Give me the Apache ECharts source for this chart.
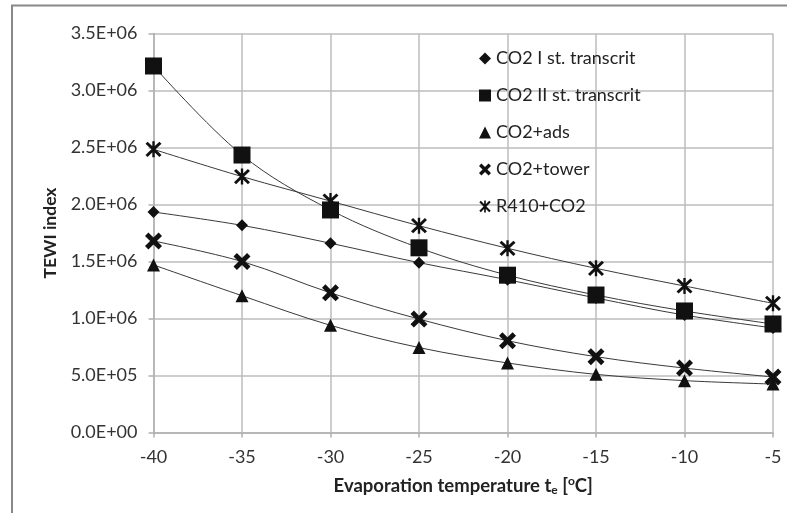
<!DOCTYPE html>
<html><head><meta charset="utf-8">
<script src="https://cdn.jsdelivr.net/npm/echarts@6/dist/echarts.min.js"></script>
<style>html,body{margin:0;padding:0;background:#fff}#c{width:787px;height:513px}</style>
</head><body><div id="c"></div>
<script>
var temps = [-40, -35, -30, -25, -20, -15, -10, -5];
var co2I   = [1.934e6, 1.817e6, 1.66e6, 1.49e6, 1.34e6, 1.18e6, 1.03e6, 0.917e6];
var co2II  = [3.215e6, 2.434e6, 1.952e6, 1.62e6, 1.38e6, 1.206e6, 1.066e6, 0.952e6];
var co2Ads = [1.47e6, 1.2e6, 0.94e6, 0.745e6, 0.61e6, 0.51e6, 0.455e6, 0.425e6];
var co2Tower = [1.68e6, 1.5e6, 1.225e6, 0.995e6, 0.805e6, 0.665e6, 0.565e6, 0.487e6];
var r410 = [2.484e6, 2.245e6, 2.03e6, 1.814e6, 1.616e6, 1.44e6, 1.285e6, 1.133e6];
var names = ['CO2 I st. transcrit', 'CO2 II st. transcrit', 'CO2+ads', 'CO2+tower', 'R410+CO2'];

var X_PATH = 'path://M4,0 L10,6 L16,0 L20,4 L14,10 L20,16 L16,20 L10,14 L4,20 L0,16 L6,10 L0,4 Z';
var STAR_PATH = 'path://M3,0.5 L10,7.5 L17,0.5 L19.5,3 L12.5,10 L19.5,17 L17,19.5 L10,12.5 L3,19.5 L0.5,17 L7.5,10 L0.5,3 Z M8.6,0 L11.4,0 L11.4,20 L8.6,20 Z';
var symbols = ['diamond', 'rect', 'triangle', X_PATH, STAR_PATH];
var sizes = [12, 17, 13, 17, 16];
var seriesData = [co2I, co2II, co2Ads, co2Tower, r410];

function pairs(arr){ return temps.map(function(t,i){ return [t, arr[i]]; }); }
function fmt(v){
  if (v === 0) return '0.0E+00';
  var e = Math.floor(Math.log10(v) + 1e-9);
  var m = v / Math.pow(10, e);
  return m.toFixed(1) + 'E+' + (e < 10 ? '0' + e : e);
}

var FONT = 'Lato';
var chart = echarts.init(document.getElementById('c'));
chart.setOption({
  animation: false,
  backgroundColor: '#fff',
  color: ['#111', '#111', '#111', '#111', '#111'],
  grid: { left: 153.5, right: 14, top: 33.5, bottom: 80.5, containLabel: false },
  xAxis: {
    type: 'value', min: -40, max: -5, interval: 5,
    axisLine: { show: true, lineStyle: { color: '#b0b0b0', width: 1.5 } },
    axisTick: { show: true, length: 5, lineStyle: { color: '#b0b0b0', width: 1.5 } },
    splitLine: { show: true, lineStyle: { color: '#bdbdbd', width: 1.5 } },
    axisLabel: { color: '#333', fontFamily: FONT, fontSize: 18, margin: 16 },
    name: 'Evaporation temperature t{sub|e} [{sup|o}C]',
    nameLocation: 'middle', nameGap: 43,
    nameTextStyle: {
      color: '#222', fontFamily: FONT, fontSize: 18.5, fontWeight: 'bold',
      rich: {
        sub: { fontSize: 12, fontWeight: 'bold', fontFamily: FONT, color: '#222', verticalAlign: 'bottom', padding: [9, 0, 0, 0] },
        sup: { fontSize: 12, fontWeight: 'bold', fontFamily: FONT, color: '#222', verticalAlign: 'top', padding: [0, 0, 7, 0] }
      }
    }
  },
  yAxis: {
    type: 'value', min: 0, max: 3.5e6, interval: 0.5e6,
    axisLine: { show: true, lineStyle: { color: '#b0b0b0', width: 1.5 } },
    axisTick: { show: true, length: 5, lineStyle: { color: '#b0b0b0', width: 1.5 } },
    splitLine: { show: true, lineStyle: { color: '#bdbdbd', width: 1.5 } },
    axisLabel: { color: '#333', fontFamily: FONT, fontSize: 18, margin: 16, formatter: fmt },
    name: 'TEWI index', nameLocation: 'middle', nameGap: 93,
    nameTextStyle: { color: '#222', fontFamily: FONT, fontSize: 17.5, fontWeight: 'bold' }
  },
  legend: {
    orient: 'vertical', left: 479, top: 48, padding: 0, itemGap: 16,
    itemWidth: 12, itemHeight: 12,
    textStyle: { color: '#222', fontFamily: FONT, fontSize: 18, lineHeight: 21 },
    data: names.map(function(n, i){
      return { name: n, icon: symbols[i], itemStyle: { color: '#111', borderWidth: 0 } };
    })
  },
  graphic: [
    { type: 'line', shape: { x1: 11, y1: 5.5, x2: 787, y2: 5.5 }, style: { stroke: '#888', lineWidth: 2 } },
    { type: 'line', shape: { x1: 12, y1: 5, x2: 12, y2: 513 }, style: { stroke: '#888', lineWidth: 2 } }
  ],
  series: seriesData.map(function(d, i){
    return {
      type: 'line', name: names[i], data: pairs(d), smooth: 0.35,
      symbol: symbols[i], symbolSize: sizes[i],
      color: '#111',
      lineStyle: { color: '#3a3a3a', width: 1 },
      itemStyle: { color: '#111', borderWidth: 0 }
    };
  })
});
</script></body></html>
